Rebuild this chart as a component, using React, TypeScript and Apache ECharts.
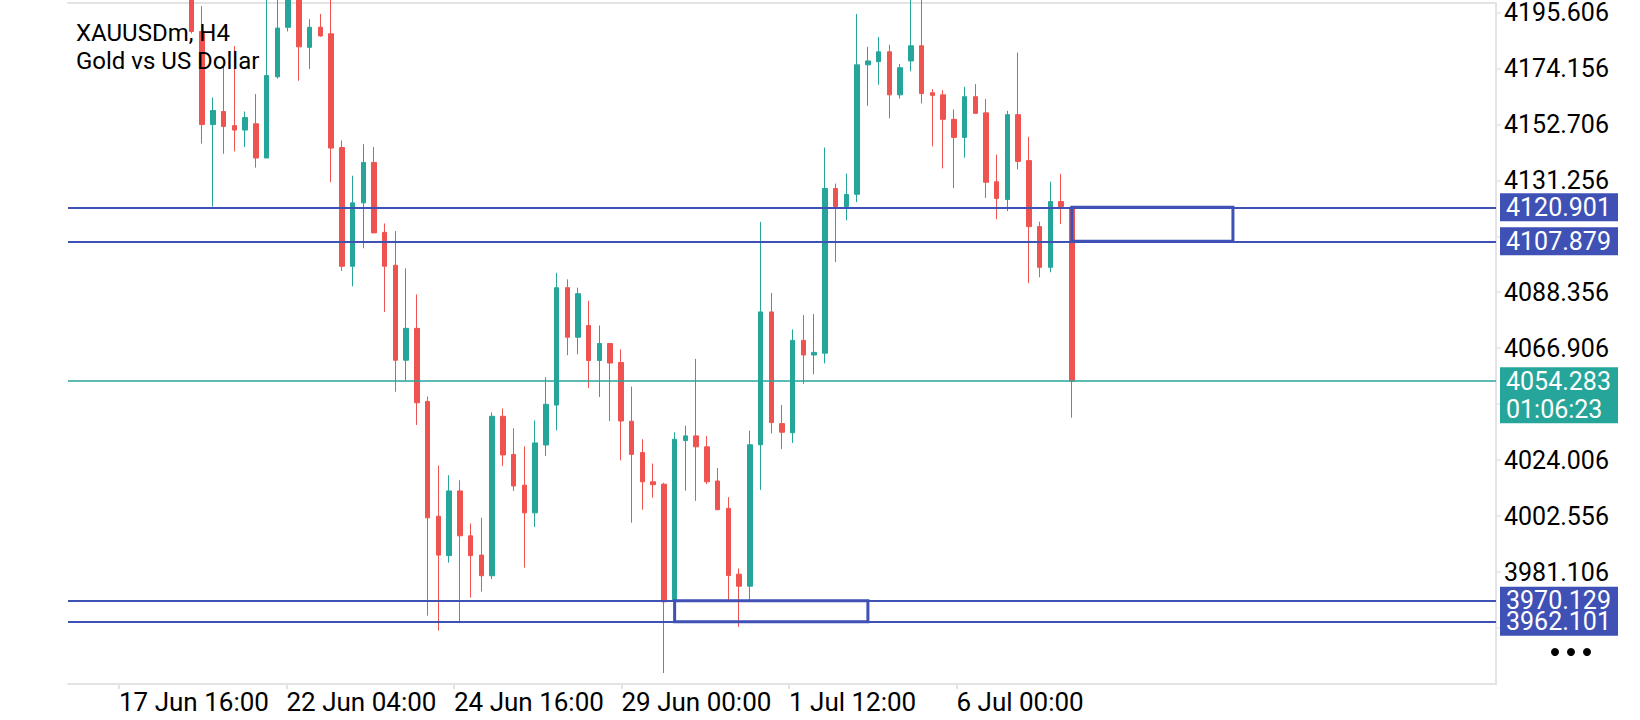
import React, { useEffect, useRef } from 'react';
import * as echarts from 'echarts';

// ---- data -------------------------------------------------------------
const SLOT_COUNT = 133; // bar slots on the time axis (incl. future space)
const FIRST_SLOT = 11; // slot of the first candle
const LABEL_SUBDIV = 10; // label axis resolution: tenths of a bar

const opens = [
  4212.0, 4188.3, 4152.6, 4157.6, 4152.2, 4150.5, 4152.9, 4139.8, 4170.9, 4189.9,
  4204.0, 4182.2, 4189.9, 4187.4, 4143.8, 4098.3, 4122.6, 4138.1, 4111.3, 4098.7,
  4062.3, 4074.5, 4046.5, 4002.5, 3987.4, 4012.2, 3995.0, 3987.6, 3979.7, 4040.8,
  4026.2, 4014.4, 4003.8, 4029.8, 4045.1, 4090.1, 4071.1, 4075.6, 4062.2, 4068.7,
  4061.4, 4038.9, 4026.9, 4015.7, 4014.8, 3970.2, 4031.5, 4033.3, 4029.1, 4016.0,
  4005.5, 3980.3, 3975.7, 4029.9, 4080.8, 4038.0, 4034.5, 4069.9, 4064.3, 4065.0,
  4128.1, 4121.2, 4125.9, 4175.5, 4176.7, 4180.5, 4164.0, 4177.0, 4182.8, 4164.8,
  4164.0, 4154.6, 4147.7, 4163.3, 4157.1, 4130.7, 4123.9, 4156.4, 4138.8, 4113.5,
  4097.9, 4123.1, 4120.9,
];
const closes = [
  4188.3, 4152.6, 4158.0, 4151.9, 4150.5, 4155.3, 4139.8, 4171.4, 4189.6, 4206.0,
  4182.4, 4189.9, 4186.6, 4143.6, 4098.3, 4122.6, 4138.1, 4111.1, 4098.3, 4062.3,
  4074.5, 4046.0, 4001.9, 3987.6, 4012.2, 3995.0, 3987.4, 3979.7, 4040.8, 4026.0,
  4014.1, 4003.8, 4030.6, 4045.4, 4090.1, 4071.1, 4087.8, 4062.2, 4068.7, 4061.2,
  4039.0, 4026.2, 4015.7, 4014.6, 3969.7, 4032.0, 4033.3, 4029.1, 4015.7, 4005.0,
  3979.8, 3975.7, 4029.9, 4080.8, 4038.4, 4034.7, 4069.9, 4064.3, 4065.3, 4128.1,
  4121.2, 4125.8, 4175.5, 4177.0, 4180.5, 4164.0, 4174.4, 4182.8, 4164.5, 4163.8,
  4154.6, 4147.7, 4163.3, 4156.9, 4130.5, 4124.3, 4156.4, 4138.5, 4113.5, 4097.9,
  4123.1, 4121.2, 4054.283,
];
const lows = [
  4187.5, 4145.3, 4121.2, 4141.4, 4142.3, 4144.0, 4136.1, 4139.8, 4170.2, 4188.3,
  4169.4, 4173.9, 4186.2, 4130.5, 4096.5, 4090.6, 4105.2, 4111.1, 4080.8, 4050.2,
  4054.4, 4037.5, 3964.4, 3958.7, 3984.7, 3961.5, 3971.3, 3973.6, 3978.4, 4021.8,
  4012.2, 3982.8, 3998.4, 4025.6, 4035.4, 4064.2, 4064.6, 4051.6, 4048.2, 4039.0,
  4023.9, 4000.0, 4005.0, 4009.6, 3942.4, 3970.2, 4012.3, 4008.4, 4014.8, 4005.0,
  3970.2, 3960.1, 3970.2, 4012.6, 4034.2, 4028.3, 4030.6, 4053.2, 4056.9, 4061.1,
  4099.9, 4115.9, 4122.9, 4159.8, 4167.9, 4155.0, 4162.6, 4173.0, 4160.7, 4144.3,
  4135.8, 4128.2, 4139.9, 4156.9, 4124.5, 4116.3, 4119.4, 4135.4, 4091.8, 4094.1,
  4096.0, 4114.5, 4040.3,
];
const highs = [
  4215.0, 4198.0, 4163.0, 4174.8, 4182.7, 4157.6, 4164.3, 4203.0, 4205.0, 4210.0,
  4209.0, 4193.0, 4195.0, 4201.0, 4146.5, 4133.0, 4145.1, 4144.0, 4114.7, 4111.8,
  4097.5, 4087.5, 4048.4, 4021.9, 4018.2, 4016.3, 3999.7, 4001.9, 4042.3, 4043.8,
  4036.2, 4029.3, 4039.2, 4055.8, 4095.8, 4093.3, 4090.1, 4085.1, 4075.6, 4068.9,
  4066.4, 4052.2, 4032.0, 4022.7, 4015.3, 4034.7, 4037.2, 4062.8, 4033.3, 4021.0,
  4009.8, 3982.5, 4035.3, 4115.3, 4088.1, 4045.1, 4074.1, 4079.6, 4080.0, 4143.8,
  4130.0, 4133.8, 4195.0, 4182.4, 4186.2, 4183.2, 4175.8, 4201.0, 4202.0, 4166.2,
  4165.8, 4158.4, 4167.1, 4168.1, 4162.4, 4141.1, 4157.9, 4180.2, 4147.9, 4115.4,
  4130.7, 4133.7, 4120.9,
];

const timeLabels = ['17 Jun 16:00', '22 Jun 04:00', '24 Jun 16:00', '29 Jun 00:00', '1 Jul 12:00', '6 Jul 00:00'];
// bar position (fractional slot) of each time-scale grid mark
const timeLabelBars = [4.28, 19.87, 35.46, 51.05, 66.64, 82.23];

const Y_MIN = 3938.206;
const Y_MAX = 4199.2;
const Y_STEP = 21.45;

const resistanceLevels = [4120.901, 4107.879];
const supportLevels = [3970.129, 3962.101];
const currentPrice = 4054.283;
const countdown = '01:06:23';
const resistanceZoneSlots = [93, 108];
const supportZoneSlots = [56, 74];

const symbolTitle = 'XAUUSDm, H4';
const symbolDesc = 'Gold vs US Dollar';

// ---- styles -----------------------------------------------------------
const RED = '#EF5350';
const GREEN = '#26A69A';
const BLUE = '#3F51B5';
const GRAY = '#E3E3E3';
const FONT = 'Roboto';
const W = 1640;
const H = 720;
const GRID = { left: 68, right: 144, top: 3, bottom: 36 };

export default function App() {
  const ref = useRef<HTMLDivElement>(null);

  useEffect(() => {
    if (!ref.current) return;
    const chart = echarts.init(ref.current, null, { renderer: 'svg' });

    const slots = Array.from({ length: SLOT_COUNT }, (_, i) => String(i));
    const fineSlots = Array.from({ length: SLOT_COUNT * LABEL_SUBDIV }, (_, i) => String(i));
    const labelMap = new Map<number, string>();
    timeLabelBars.forEach((b, k) =>
      labelMap.set(Math.round((b + 0.5) * LABEL_SUBDIV - 0.5), timeLabels[k])
    );
    const showAt = (i: number) => labelMap.has(i);

    // axis labels hidden under the price tags (as in the terminal)
    const covered = (v: number) =>
      [...resistanceLevels, ...supportLevels].some((t) => Math.abs(v - t) < 5.5) ||
      (v < currentPrice + 5.5 && v > currentPrice - 16.5);

    const candleData = opens.map((o, i) => [FIRST_SLOT + i, o, closes[i], lows[i], highs[i]]);

    const option: any = {
      animation: false,
      backgroundColor: '#ffffff',
      grid: { ...GRID, outerBoundsMode: 'none', containLabel: false },
      xAxis: [
        {
          // bar axis (drawn along the top as the chart frame)
          type: 'category',
          data: slots,
          position: 'top',
          boundaryGap: true,
          axisLine: { show: true, onZero: false, lineStyle: { color: GRAY, width: 2 } },
          axisTick: { show: false },
          axisLabel: { show: false },
          splitLine: { show: false },
        },
        {
          // time scale at the bottom, in tenths of a bar
          type: 'category',
          data: fineSlots,
          position: 'bottom',
          boundaryGap: true,
          axisLine: { show: true, onZero: false, lineStyle: { color: GRAY, width: 2 } },
          axisTick: {
            show: true,
            alignWithLabel: true,
            interval: (i: number) => showAt(i),
            length: 5,
            lineStyle: { color: GRAY, width: 2 },
          },
          axisLabel: {
            show: true,
            interval: (i: number) => showAt(i),
            formatter: (v: string) => labelMap.get(Number(v)) ?? '',
            align: 'left',
            margin: 5,
            color: '#000',
            fontSize: 26,
            fontFamily: FONT,
          },
          splitLine: { show: false },
        },
      ],
      yAxis: {
        type: 'value',
        position: 'right',
        min: Y_MIN,
        max: Y_MAX,
        interval: Y_STEP,
        axisLine: { show: true, lineStyle: { color: GRAY, width: 2 } },
        axisTick: { show: true, length: 5, lineStyle: { color: GRAY, width: 1.5 } },
        axisLabel: {
          show: true,
          margin: 8,
          color: '#000',
          fontSize: 25,
          fontFamily: FONT,
          showMinLabel: false,
          showMaxLabel: false,
          formatter: (v: number) => (covered(v) ? '' : v.toFixed(3)),
        },
        splitLine: { show: false },
      },
      series: [
        {
          type: 'candlestick',
          xAxisIndex: 0,
          yAxisIndex: 0,
          data: candleData,
          encode: { x: 0, y: [1, 2, 3, 4] },
          barWidth: 5,
          clip: true,
          silent: true,
          itemStyle: {
            color: GREEN,
            color0: RED,
            borderColor: GREEN,
            borderColor0: RED,
            borderWidth: 1,
          },
          markLine: {
            silent: true,
            symbol: ['none', 'none'],
            label: { show: false },
            lineStyle: { type: 'solid' },
            data: [
              ...resistanceLevels.map((v) => ({ yAxis: v, lineStyle: { color: BLUE, width: 2, type: 'solid' } })),
              ...supportLevels.map((v) => ({ yAxis: v, lineStyle: { color: BLUE, width: 2, type: 'solid' } })),
              { yAxis: currentPrice, lineStyle: { color: GREEN, width: 1.6, type: 'solid' } },
            ],
          },
          markArea: {
            silent: true,
            z: 6,
            label: { show: false },
            itemStyle: { color: 'rgba(0,0,0,0)', borderColor: BLUE, borderWidth: 3 },
            data: [
              [
                { xAxis: resistanceZoneSlots[0], yAxis: resistanceLevels[0] },
                { xAxis: resistanceZoneSlots[1], yAxis: resistanceLevels[1] },
              ],
              [
                { xAxis: supportZoneSlots[0], yAxis: supportLevels[0] },
                { xAxis: supportZoneSlots[1], yAxis: supportLevels[1] },
              ],
            ],
          },
        },
      ],
    };

    chart.setOption(option);

    // price tags on the right scale, placed through the library's y scale
    const yPx = (v: number) => chart.convertToPixel({ yAxisIndex: 0 }, v) as number;
    const TAG_X = W - GRID.right + 4;
    const TAG_W = 118;
    const TAG_H = 28;
    const textStyle = { fontSize: 25, fontFamily: FONT, verticalAlign: 'middle', align: 'left' };
    const rects: any[] = [];
    const texts: any[] = [];
    const addTag = (v: number, lines: string[], color: string) => {
      const y = yPx(v);
      rects.push({
        type: 'rect',
        z: 100,
        shape: { x: TAG_X, y: y - TAG_H / 2, width: TAG_W, height: TAG_H * lines.length },
        style: { fill: color },
      });
      lines.forEach((t, k) =>
        texts.push({
          type: 'text',
          z: 101,
          x: TAG_X + 6,
          y: y + k * TAG_H,
          style: { ...textStyle, text: t, fill: '#ffffff' },
        })
      );
    };
    resistanceLevels.forEach((v) => addTag(v, [v.toFixed(3)], BLUE));
    addTag(currentPrice, [currentPrice.toFixed(3), countdown], GREEN);
    supportLevels.forEach((v) => addTag(v, [v.toFixed(3)], BLUE));

    const header = [
      { type: 'text', z: 102, x: 76, y: 33, style: { ...textStyle, fontSize: 24, text: symbolTitle, fill: '#000' } },
      { type: 'text', z: 102, x: 76, y: 61, style: { ...textStyle, fontSize: 24, text: symbolDesc, fill: '#000' } },
    ];
    const dots = [0, 1, 2].map((k) => ({
      type: 'circle',
      z: 102,
      shape: { cx: 1555 + k * 16, cy: 652, r: 4 },
      style: { fill: '#000' },
    }));

    chart.setOption({ graphic: { elements: [...rects, ...texts, ...header, ...dots] } });

    return () => chart.dispose();
  }, []);

  return (
    <div
      ref={ref}
      style={{ position: 'fixed', left: 0, top: 0, width: W, height: H, background: '#ffffff' }}
    />
  );
}
